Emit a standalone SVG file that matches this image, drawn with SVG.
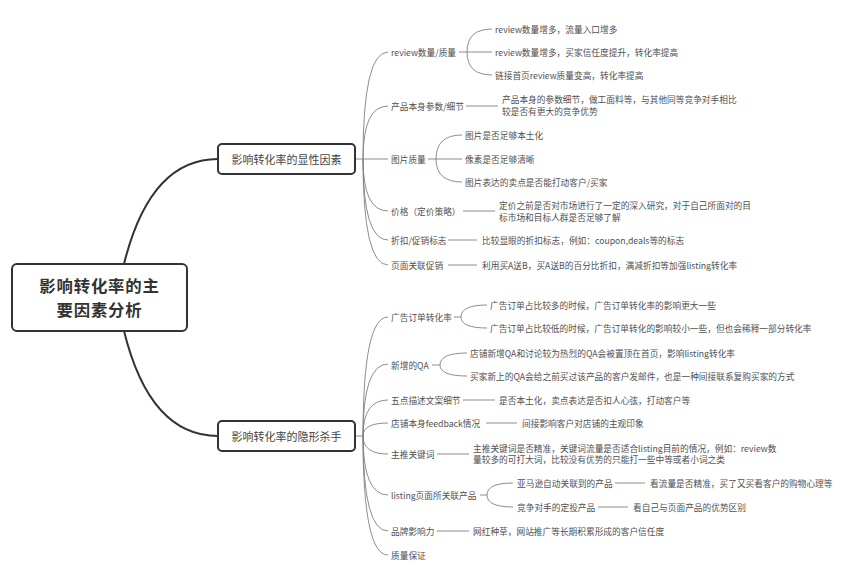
<svg xmlns="http://www.w3.org/2000/svg" width="853" height="576" viewBox="0 0 853 576">
<style>
text{font-family:"Noto Sans CJK SC","Noto Sans",sans-serif;dominant-baseline:central;}
.t{font-size:8.7px;fill:#505050;}
.n{font-size:11px;fill:#444;text-anchor:middle;}
.r{font-size:16.4px;font-weight:bold;fill:#333;text-anchor:middle;letter-spacing:0.8px;}
.box{fill:#fff;stroke:#333;stroke-width:2;}
.main{fill:none;stroke:#333;stroke-width:2;}
.thin{fill:none;stroke:#808080;stroke-width:0.9;}
</style>
<rect width="853" height="576" fill="#fff"/>
<g id="connectors">
<path class="main" d="M124,264 Q150,159 218,159"/>
<path class="main" d="M124,331 Q150,436 218,436"/>
<path class="thin" d="M355,159 H363 M363,159 Q363,52 388,52 M363,159 Q363,106 388,106 M363,159 H388 M363,159 Q363,211 388,211 M363,159 Q363,240 388,240 M363,159 Q363,265 388,265"/>
<path class="thin" d="M355,436 H363 M363,436 Q363,317 388,317 M363,436 Q363,364 388,364 M363,436 Q363,400 388,400 M363,436 Q363,423 388,423 M363,436 Q363,454 388,454 M363,436 Q363,495 388,495 M363,436 Q363,531 388,531 M363,436 Q363,555 388,555"/>
<path class="thin" d="M459,52 H467 M467,52 Q467,29 492,29 M467,52 H492 M467,52 Q467,75 492,75"/>
<path class="thin" d="M466,106 H498"/>
<path class="thin" d="M428,159 H436 M436,159 Q436,135 462,135 M436,159 H462 M436,159 Q436,182 462,182"/>
<path class="thin" d="M463,211 H495 M448,240 H477 M448,265 H477"/>
<path class="thin" d="M454,317 H461 M461,317 Q461,305 487,305 M461,317 Q461,328 487,328"/>
<path class="thin" d="M432,365 H440 M440,365 Q440,353 467,353 M440,365 Q440,376 467,376"/>
<path class="thin" d="M463,400 H495 M486,423 H517 M437,454 H469"/>
<path class="thin" d="M480,495 H487 M487,495 Q487,483 513,483 M487,495 Q487,507 513,507 M615,483 H645 M598,507 H628"/>
<path class="thin" d="M437,531 H469"/>
</g>
<g id="root">
<rect class="box" x="12" y="264" width="175" height="67" rx="5"/>
<text class="r" x="99.5" y="285">影响转化率的主</text>
<text class="r" x="99.5" y="309">要因素分析</text>
</g>
<g id="explicit">
<rect class="box" x="218" y="144" width="137" height="30" rx="4"/>
<text class="n" x="286.5" y="159">影响转化率的显性因素</text>
</g>
<g id="hidden">
<rect class="box" x="218" y="421" width="137" height="30" rx="4"/>
<text class="n" x="286.5" y="436">影响转化率的隐形杀手</text>
</g>
<g id="review"><text class="t" x="391" y="52">review数量/质量</text></g>
<g id="review-1"><text class="t" x="495" y="29">review数量增多，流量入口增多</text></g>
<g id="review-2"><text class="t" x="495" y="52">review数量增多，买家信任度提升，转化率提高</text></g>
<g id="review-3"><text class="t" x="495" y="75">链接首页review质量变高，转化率提高</text></g>
<g id="params"><text class="t" x="391" y="106">产品本身参数/细节</text></g>
<g id="params-1"><text class="t" x="502" y="99.5">产品本身的参数细节，做工面料等，与其他同等竞争对手相比</text><text class="t" x="502" y="111">较是否有更大的竞争优势</text></g>
<g id="image"><text class="t" x="391" y="159">图片质量</text></g>
<g id="image-1"><text class="t" x="465" y="135">图片是否足够本土化</text></g>
<g id="image-2"><text class="t" x="465" y="159">像素是否足够清晰</text></g>
<g id="image-3"><text class="t" x="465" y="182">图片表达的卖点是否能打动客户/买家</text></g>
<g id="price"><text class="t" x="391" y="211">价格（定价策略）</text></g>
<g id="price-1"><text class="t" x="499" y="205.5">定价之前是否对市场进行了一定的深入研究，对于自己所面对的目</text><text class="t" x="499" y="217">标市场和目标人群是否足够了解</text></g>
<g id="discount"><text class="t" x="391" y="240">折扣/促销标志</text></g>
<g id="discount-1"><text class="t" x="482" y="240">比较显眼的折扣标志，例如：coupon,deals等的标志</text></g>
<g id="promo"><text class="t" x="391" y="265">页面关联促销</text></g>
<g id="promo-1"><text class="t" x="482" y="265">利用买A送B，买A送B的百分比折扣，满减折扣等加强listing转化率</text></g>
<g id="ads"><text class="t" x="391" y="317">广告订单转化率</text></g>
<g id="ads-1"><text class="t" x="490" y="305">广告订单占比较多的时候，广告订单转化率的影响更大一些</text></g>
<g id="ads-2"><text class="t" x="490" y="328">广告订单占比较低的时候，广告订单转化的影响较小一些，但也会稀释一部分转化率</text></g>
<g id="qa"><text class="t" x="391" y="365">新增的QA</text></g>
<g id="qa-1"><text class="t" x="470" y="353">店铺新增QA和讨论较为热烈的QA会被置顶在首页，影响listing转化率</text></g>
<g id="qa-2"><text class="t" x="470" y="376">买家新上的QA会给之前买过该产品的客户发邮件，也是一种间接联系复购买家的方式</text></g>
<g id="bullets"><text class="t" x="391" y="400">五点描述文案细节</text></g>
<g id="bullets-1"><text class="t" x="499" y="400">是否本土化，卖点表达是否扣人心弦，打动客户等</text></g>
<g id="feedback"><text class="t" x="391" y="423">店铺本身feedback情况</text></g>
<g id="feedback-1"><text class="t" x="522" y="423">间接影响客户对店铺的主观印象</text></g>
<g id="keyword"><text class="t" x="391" y="454">主推关键词</text></g>
<g id="keyword-1"><text class="t" x="473" y="448">主推关键词是否精准，关键词流量是否适合listing目前的情况，例如：review数</text><text class="t" x="473" y="459.5">量较多的可打大词，比较没有优势的只能打一些中等或者小词之类</text></g>
<g id="related"><text class="t" x="391" y="495">listing页面所关联产品</text></g>
<g id="related-1"><text class="t" x="517" y="483">亚马逊自动关联到的产品</text></g>
<g id="related-1a"><text class="t" x="650" y="483">看流量是否精准，买了又买看客户的购物心理等</text></g>
<g id="related-2"><text class="t" x="517" y="507">竞争对手的定投产品</text></g>
<g id="related-2a"><text class="t" x="633" y="507">看自己与页面产品的优势区别</text></g>
<g id="brand"><text class="t" x="391" y="531">品牌影响力</text></g>
<g id="brand-1"><text class="t" x="473" y="531">网红种草，网站推广等长期积累形成的客户信任度</text></g>
<g id="quality"><text class="t" x="391" y="555">质量保证</text></g>
</svg>
